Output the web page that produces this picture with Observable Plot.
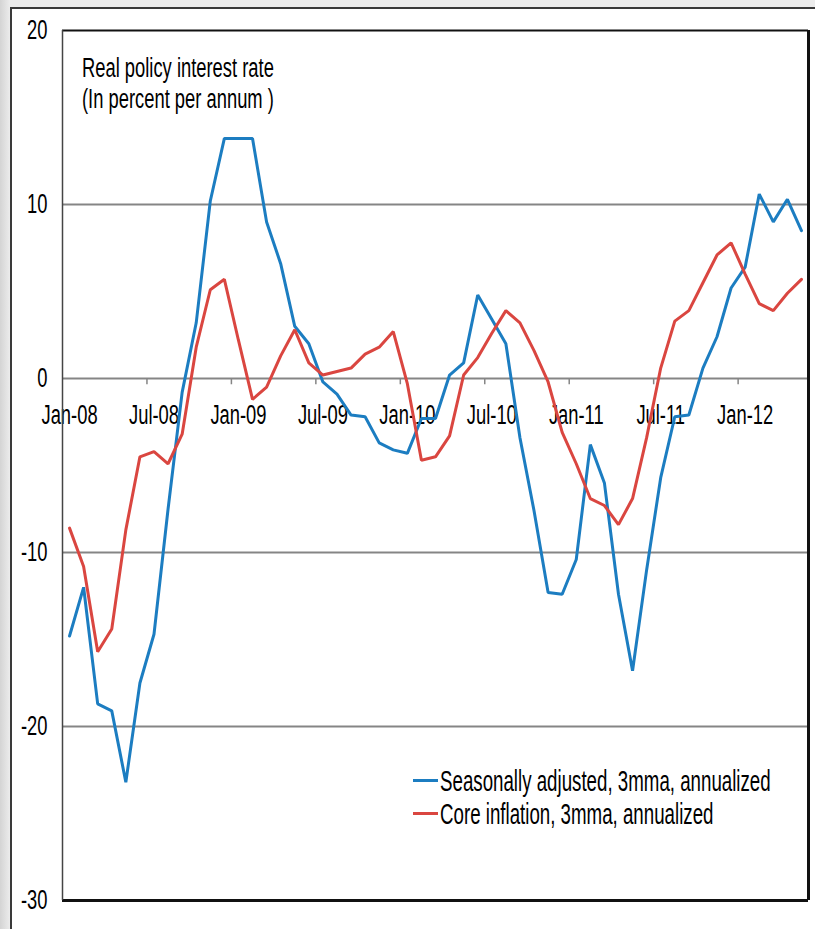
<!DOCTYPE html>
<html>
<head>
<meta charset="utf-8">
<script src="https://cdn.jsdelivr.net/npm/d3@7"></script>
<script src="https://cdn.jsdelivr.net/npm/@observablehq/plot@0.6"></script>
<style>
  html, body { margin: 0; padding: 0; }
  body {
    width: 815px; height: 929px; position: relative; overflow: hidden;
    background: linear-gradient(90deg, #d4d4d4 0px, #ececec 10px, #ececec 100%);
    font-family: "Liberation Sans", Arial, sans-serif;
  }
  #sheet {
    position: absolute; left: 10px; top: 7px; right: -4px; bottom: -4px;
    background: #fff; border-left: 2px solid #3a3a3a; border-top: 2px solid #3a3a3a;
  }
  #chart { position: absolute; left: 0; top: 0; }
  .txt { position: absolute; color: #000; line-height: 1; white-space: nowrap;
         transform-origin: 0 50%; }
  .title { left: 82px; font-size: 27px; transform: scaleX(0.68); }
  .leg { left: 440px; font-size: 29px; transform: scaleX(0.645); }
  .sw { position: absolute; left: 413px; width: 25px; height: 3px; }
</style>
</head>
<body>
<div id="sheet"></div>
<div id="chart"></div>
<div class="txt title" style="top:55px">Real policy interest rate</div>
<div class="txt title" style="top:86px">(In percent per annum )</div>
<div class="sw" style="top:779px;background:#1c7dc1"></div>
<div class="txt leg" style="top:767px">Seasonally adjusted, 3mma, annualized</div>
<div class="sw" style="top:812px;background:#da4640"></div>
<div class="txt leg" style="top:800px">Core inflation, 3mma, annualized</div>
<script>
// Monthly, Jan-08 .. May-12
const seasonallyAdjusted = [
  -14.8, -12.0, -18.7, -19.1, -23.2, -17.5, -14.7, -7.5, -0.8, 3.2,
  10.2, 13.8, 13.8, 13.8, 9.0, 6.6, 3.0, 2.0, -0.2, -0.9,
  -2.1, -2.2, -3.7, -4.1, -4.3, -2.3, -2.3, 0.2, 0.9, 4.8,
  3.4, 2.0, -3.4, -7.6, -12.3, -12.4, -10.4, -3.8, -6.0, -12.4,
  -16.8, -11.0, -5.7, -2.2, -2.1, 0.6, 2.4, 5.2, 6.4, 10.6,
  9.0, 10.3, 8.5
];
const coreInflation = [
  -8.6, -10.8, -15.7, -14.4, -8.7, -4.5, -4.2, -4.9, -3.2, 1.8,
  5.1, 5.7, 2.2, -1.2, -0.5, 1.3, 2.8, 0.9, 0.2, 0.4,
  0.6, 1.4, 1.8, 2.7, -0.3, -4.7, -4.5, -3.3, 0.2, 1.2,
  2.6, 3.9, 3.2, 1.6, -0.2, -3.1, -4.9, -6.9, -7.3, -8.4,
  -6.9, -3.4, 0.6, 3.3, 3.9, 5.5, 7.1, 7.8, 6.0, 4.3,
  3.9, 4.9, 5.7
];
const xTickLabels = ["Jan-08","Jul-08","Jan-09","Jul-09","Jan-10","Jul-10","Jan-11","Jul-11","Jan-12"];
const yTicks = [20, 10, 0, -10, -20, -30];
const gridValues = [10, 0, -10, -20];

const BLUE = "#1c7dc1", RED = "#da4640";
const FONT = '"Liberation Sans", Arial, sans-serif';
const n = seasonallyAdjusted.length;
const tickBounds = xTickLabels.slice(1).map((d, i) => (i + 1) * 6 - 0.5);

const chart = Plot.plot({
  width: 815, height: 929,
  marginLeft: 62, marginRight: 7, marginTop: 30, marginBottom: 29,
  x: {domain: [-0.5, n - 0.5], axis: null},
  y: {domain: [-30, 20], axis: null},
  style: {fontFamily: FONT, background: "transparent", overflow: "visible"},
  marks: [
    Plot.ruleY(gridValues, {stroke: "#858585", strokeWidth: 2}),
    Plot.ruleX(tickBounds, {y1: 0, y2: -0.36, stroke: "#858585", strokeWidth: 1.5}),
    Plot.text(xTickLabels, {x: (d, i) => i * 6, y: 0, dy: 37, text: d => d, fontSize: 27, fill: "#000"}),
    Plot.axisY({ticks: yTicks, tickSize: 0, tickPadding: 15, fontSize: 27, fill: "#000", tickFormat: d => d}),
    Plot.line(seasonallyAdjusted, {x: (d, i) => i, y: d => d, stroke: BLUE, strokeWidth: 3, strokeLinejoin: "miter"}),
    Plot.line(coreInflation, {x: (d, i) => i, y: d => d, stroke: RED, strokeWidth: 3, strokeLinejoin: "miter"}),
    Plot.ruleY([20], {stroke: "#111", strokeWidth: 2}),
    Plot.ruleY([-30], {stroke: "#111", strokeWidth: 3}),
    Plot.ruleX([n - 0.5], {stroke: "#111", strokeWidth: 3}),
    Plot.ruleX([-0.5], {stroke: "#444", strokeWidth: 1.5})
  ]
});
// condense the SVG labels horizontally (narrow, tall face as in the original)
chart.querySelectorAll("text").forEach(t => {
  const tr = t.getAttribute("transform");
  if (tr) t.setAttribute("transform", tr + " scale(0.68,1)");
});
document.getElementById("chart").appendChild(chart);
</script>
</body>
</html>
